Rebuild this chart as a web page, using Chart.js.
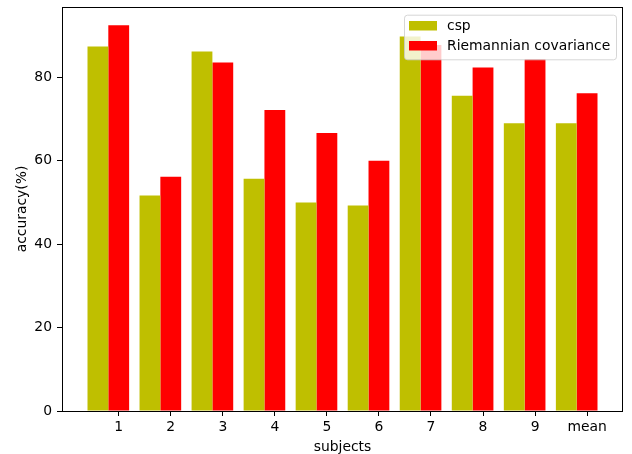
<!DOCTYPE html>
<html>
<head>
<meta charset="utf-8">
<script src="https://cdn.jsdelivr.net/npm/chart.js@4/dist/chart.umd.min.js"></script>
<style>
  body { margin: 0; background: #fff; }
  canvas { display: block; }
</style>
</head>
<body>
<canvas id="accChart" width="632" height="454"></canvas>
<script>
const subjects = ['1', '2', '3', '4', '5', '6', '7', '8', '9', 'mean'];
const cspAcc = [87.4, 51.7, 86.2, 55.7, 50.0, 49.3, 89.8, 75.6, 69.0, 69.0];
const riemannAcc = [92.5, 56.2, 83.6, 72.2, 66.7, 60.0, 87.8, 82.4, 84.4, 76.2];
const yTicks = [0, 20, 40, 60, 80];
const seriesNames = ['csp', 'Riemannian covariance'];
const seriesColors = ['#bfbf00', '#ff0000'];

// bars sit left of the tick for csp, on the tick for riemann -> group centre is tick - 0.2
const toPoints = arr => arr.map((v, i) => ({ x: i + 1 - 0.2, y: v }));

const frameAndLegend = {
    id: 'frameAndLegend',
    afterDraw(chart) {
        const ctx = chart.ctx;
        const a = chart.chartArea;
        ctx.save();
        ctx.strokeStyle = '#000';
        ctx.lineWidth = 1;
        ctx.strokeRect(Math.round(a.left) + 0.5, Math.round(a.top) + 0.5,
                       Math.round(a.right - a.left) - 1, Math.round(a.bottom - a.top));

        // legend box, upper right
        const w = 212, h = 44.6;
        const x = a.right - 7 - w, y = a.top + 7.7;
        ctx.beginPath();
        ctx.roundRect(x + 0.5, y + 0.5, w, h, 3);
        ctx.fillStyle = 'rgba(255,255,255,0.8)';
        ctx.fill();
        ctx.strokeStyle = 'rgba(204,204,204,0.8)';
        ctx.stroke();
        ctx.font = '13.9px "DejaVu Sans"';
        ctx.textBaseline = 'middle';
        seriesNames.forEach((name, i) => {
            const rowY = y + 6.3 + i * 20;
            ctx.fillStyle = seriesColors[i];
            ctx.fillRect(x + 5, rowY, 28, 9.5);
            ctx.fillStyle = '#000';
            ctx.fillText(name, x + 43, rowY + 5);
        });
        ctx.restore();
    }
};

const tickStyle = { color: '#000', font: { family: 'DejaVu Sans', size: 13.9 } };

new Chart(document.getElementById('accChart'), {
    type: 'bar',
    data: {
        datasets: [
            { label: seriesNames[0], data: toPoints(cspAcc), backgroundColor: seriesColors[0] },
            { label: seriesNames[1], data: toPoints(riemannAcc), backgroundColor: seriesColors[1] }
        ]
    },
    options: {
        responsive: false,
        animation: false,
        devicePixelRatio: 1,
        layout: { padding: { top: 7, right: 9, left: 0, bottom: 0 } },
        plugins: { legend: { display: false }, tooltip: { enabled: false } },
        datasets: { bar: { categoryPercentage: 0.8, barPercentage: 1.0 } },
        scales: {
            x: {
                type: 'linear',
                offset: false,
                min: -0.09,
                max: 10.69,
                afterBuildTicks: s => { s.ticks = subjects.map((_, i) => ({ value: i + 1 })); },
                afterFit: s => { s.height = 43; s.paddingLeft = 0; s.paddingRight = 0; },
                ticks: { ...tickStyle, padding: 3, maxRotation: 0, autoSkip: false,
                         callback: v => subjects[Math.round(v) - 1] },
                grid: { drawOnChartArea: false, drawTicks: true, tickLength: 5, color: '#000', offset: false },
                border: { display: false },
                title: { display: true, text: 'subjects', color: '#000',
                         font: { family: 'DejaVu Sans', size: 13.9 }, padding: { top: 0, bottom: -2 } }
            },
            y: {
                min: 0,
                max: 96.9,
                afterBuildTicks: s => { s.ticks = yTicks.map(v => ({ value: v })); },
                afterFit: s => { s.width = 62; s.paddingTop = 0; s.paddingBottom = 0; },
                ticks: { ...tickStyle, padding: 5 },
                grid: { drawOnChartArea: false, drawTicks: true, tickLength: 5, color: '#000' },
                border: { display: false },
                title: { display: true, text: 'accuracy(%)', color: '#000',
                         font: { family: 'DejaVu Sans', size: 13.9 }, padding: 14 }
            }
        }
    },
    plugins: [frameAndLegend]
});
</script>
</body>
</html>
